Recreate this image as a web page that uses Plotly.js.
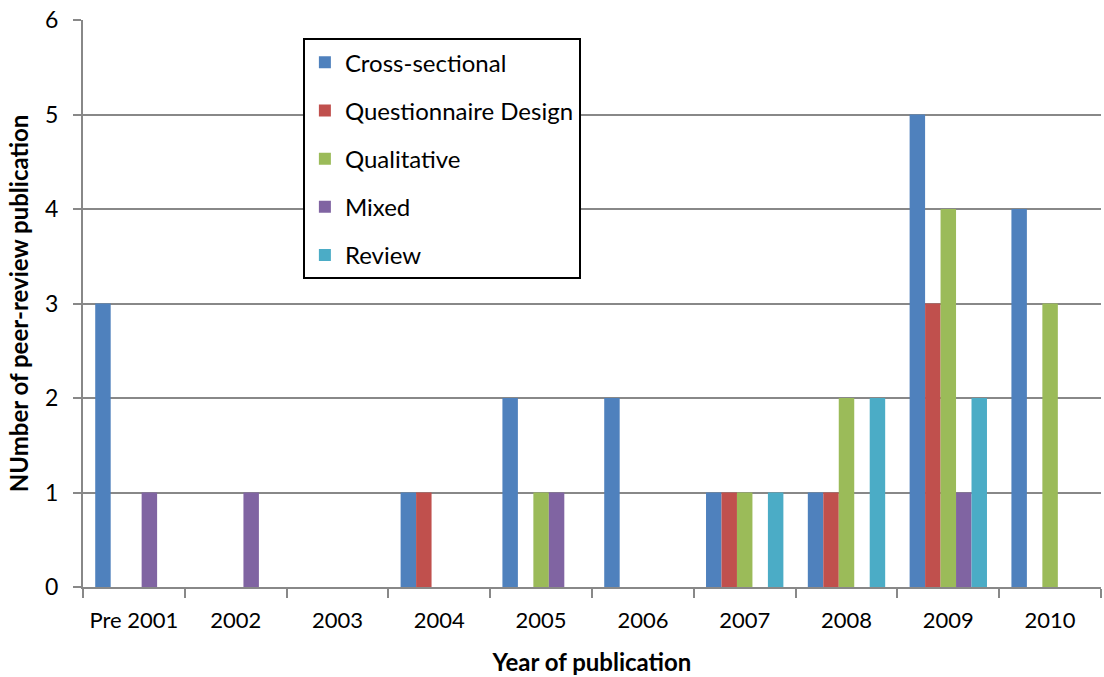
<!DOCTYPE html>
<html>
<head>
<meta charset="utf-8">
<script src="https://cdn.plot.ly/plotly-3.0.1.min.js"></script>
<style>html,body{margin:0;padding:0;background:#fff;}#chart{width:1104px;height:677px;}</style>
</head>
<body>
<div id="chart"></div>
<script>
const categories = ["Pre 2001", "2002", "2003", "2004", "2005", "2006", "2007", "2008", "2009", "2010"];
const crossSectional = [3, 0, 0, 1, 2, 2, 1, 1, 5, 4];
const questionnaireDesign = [0, 0, 0, 1, 0, 0, 1, 1, 3, 0];
const qualitative = [0, 0, 0, 0, 1, 0, 1, 2, 4, 3];
const mixed = [1, 1, 0, 0, 1, 0, 0, 0, 1, 0];
const review = [0, 0, 0, 0, 0, 0, 1, 2, 2, 0];
const seriesNames = ["Cross-sectional", "Questionnaire Design", "Qualitative", "Mixed", "Review"];
const seriesColors = ["#4F81BD", "#C0504D", "#9BBB59", "#8064A2", "#4BACC6"];
const seriesValues = [crossSectional, questionnaireDesign, qualitative, mixed, review];

const FONT = "Lato, 'Open Sans', sans-serif";

const traces = seriesNames.map((name, i) => ({
  type: "bar",
  name: name,
  x: categories,
  y: seriesValues[i],
  marker: {color: seriesColors[i], line: {width: 0}},
  legendgroup: "g" + i
}));

const layout = {
  width: 1104,
  height: 677,
  margin: {l: 83, r: 3, t: 20, b: 90},
  paper_bgcolor: "#fff",
  plot_bgcolor: "#fff",
  barmode: "group",
  bargap: 0.24,
  bargroupgap: 0,
  font: {family: FONT, color: "#000", size: 22},
  showlegend: true,
  legend: {
    x: 0.216, y: 0.968, xanchor: "left", yanchor: "top",
    bgcolor: "#fff", bordercolor: "#000", borderwidth: 2,
    font: {family: FONT, size: 24, color: "#000"},
    traceorder: "grouped",
    tracegroupgap: 14,
    itemwidth: 30
  },
  xaxis: {
    type: "category",
    tickson: "boundaries",
    ticks: "outside",
    ticklen: 9,
    tickwidth: 2,
    tickcolor: "#888",
    showline: true,
    linecolor: "#888",
    linewidth: 2,
    showgrid: false,
    tickfont: {family: FONT, size: 22, color: "#000"},
    ticklabelstandoff: 13,
    title: {text: "<b>Year of publication</b>", font: {family: FONT, size: 24, color: "#000"}, standoff: 22}
  },
  yaxis: {
    range: [0, 6],
    dtick: 1,
    ticks: "outside",
    ticklen: 8,
    tickwidth: 2,
    tickcolor: "#888",
    showline: true,
    linecolor: "#888",
    linewidth: 2,
    showgrid: true,
    gridcolor: "#888",
    gridwidth: 2,
    zeroline: false,
    tickfont: {family: FONT, size: 23, color: "#000"},
    ticklabelstandoff: 10,
    title: {text: "<b>NUmber of peer-review publication</b>", font: {family: FONT, size: 24, color: "#000"}, standoff: 10}
  }
};

Plotly.newPlot("chart", traces, layout, {displayModeBar: false, staticPlot: true});
</script>
</body>
</html>
